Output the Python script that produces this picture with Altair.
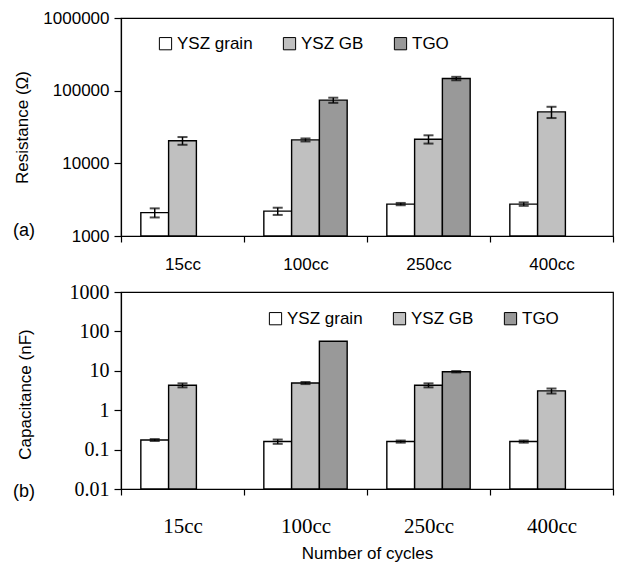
import altair as alt
import pandas as pd
import numpy as np

cycles = ["15cc", "100cc", "250cc", "400cc"]
series = ["YSZ grain", "YSZ GB", "TGO"]
colors = ["#ffffff", "#c0c0c0", "#999999"]

res_grain = [2100, 2200, 2750, 2750]
res_grain_err = [300, 250, 100, 150]
res_gb = [20500, 21000, 21500, 51000]
res_gb_err = [2500, 1000, 2800, 9000]
res_tgo = [np.nan, 74000, 147000, np.nan]
res_tgo_err = [np.nan, 6000, 8000, np.nan]

cap_grain = [0.175, 0.16, 0.16, 0.16]
cap_grain_err = [0.01, 0.02, 0.01, 0.01]
cap_gb = [4.3, 4.9, 4.3, 3.1]
cap_gb_err = [0.5, 0.3, 0.5, 0.45]
cap_tgo = [np.nan, 56, 9.5, np.nan]
cap_tgo_err = [np.nan, np.nan, 0.4, np.nan]


def build(vals, errs):
    rows = []
    for s, v, e in zip(series, vals, errs):
        for c, vv, ee in zip(cycles, v, e):
            rows.append({"cycle": c, "series": s, "value": vv, "err": ee})
    df = pd.DataFrame(rows).dropna(subset=["value"])
    df["lo"] = df["value"] - df["err"]
    df["hi"] = df["value"] + df["err"]
    return df


df_res = build([res_grain, res_gb, res_tgo], [res_grain_err, res_gb_err, res_tgo_err])
df_cap = build([cap_grain, cap_gb, cap_tgo], [cap_grain_err, cap_gb_err, cap_tgo_err])

SANS = "Liberation Sans"
SERIF = "Liberation Serif"
W = 492


def panel(df, H, ydomain, yvals, yfmt, yfont, yfs, xfont, xfs, xlabpad, ytitle, ytx, yty,
          tag, tagy, legx, legy, xtitle=None):
    xaxis = alt.Axis(title=xtitle, labelAngle=0, tickBand="extent", labelFont=xfont,
                     labelFontSize=xfs, labelColor="black", labelPadding=xlabpad,
                     tickSize=6, tickColor="black", tickWidth=1.2,
                     domainColor="black", domainWidth=1.2,
                     titleFont=SANS, titleFontSize=17, titleFontWeight="normal",
                     titleColor="black", titlePadding=9)
    x = alt.X("cycle:N", sort=cycles,
              scale=alt.Scale(paddingInner=0, paddingOuter=0), axis=xaxis)
    xo = alt.XOffset("series:N", sort=series,
                     scale=alt.Scale(domain=series, paddingInner=0, paddingOuter=0.714))
    yscale = alt.Scale(type="log", domain=ydomain, nice=False)
    yaxis = alt.Axis(title=ytitle, values=yvals, format=yfmt, labelFont=yfont,
                     labelFontSize=yfs, labelColor="black", tickSize=7, tickColor="black",
                     tickWidth=1.2,
                     labelPadding=5, domainColor="black", domainWidth=1.2, grid=False,
                     titleFont=SANS, titleFontSize=17, titleFontWeight="normal",
                     titleColor="black", titleAngle=270, titleX=ytx, titleY=yty,
                     titleAlign="center", titleBaseline="middle")
    base = alt.Chart(df)
    bars = base.mark_bar(stroke="black", strokeWidth=1.4).encode(
        x=x, xOffset=xo,
        y=alt.Y("value:Q", scale=yscale, axis=yaxis),
        y2=alt.datum(ydomain[0]),
        fill=alt.Fill("series:N", sort=series,
                      scale=alt.Scale(domain=series, range=colors),
                      legend=alt.Legend(title=None, orient="none", legendX=legx,
                                        legendY=legy, direction="horizontal",
                                        symbolType="square", symbolSize=150,
                                        symbolStrokeColor="black", symbolStrokeWidth=1,
                                        labelFont=SANS, labelFontSize=17,
                                        labelColor="black", columnPadding=28,
                                        labelOffset=3)),
    )
    edf = base.transform_filter("isValid(datum.err)")
    rule = edf.mark_rule(color="black", strokeWidth=1.5).encode(
        x=x, xOffset=xo, y=alt.Y("lo:Q", scale=yscale), y2="hi:Q")
    tlo = edf.mark_tick(color="black", size=10, thickness=2).encode(
        x=x, xOffset=xo, y=alt.Y("lo:Q", scale=yscale))
    thi = edf.mark_tick(color="black", size=10, thickness=2).encode(
        x=x, xOffset=xo, y=alt.Y("hi:Q", scale=yscale))
    lab = alt.Chart(pd.DataFrame({"t": [tag]})).mark_text(
        align="left", baseline="middle", font=SANS, fontSize=18, color="black").encode(
        text="t:N", x=alt.value(-108), y=alt.value(tagy))
    return alt.layer(bars, rule, tlo, thi, lab).properties(width=W, height=H)


top = panel(df_res, 218, [1000, 1000000], [1000, 10000, 100000, 1000000], "d",
            SANS, 17, SANS, 17, 14, "Resistance (Ω)", -99, 109, "(a)", 213, 36, 17)
bottom = panel(df_cap, 197, [0.01, 1000], [0.01, 0.1, 1, 10, 100, 1000], "~g",
               SERIF, 20, SERIF, 21, 20, "Capacitance (nF)", -96, 102, "(b)", 200, 146, 18,
               xtitle="Number of cycles")

chart = alt.vconcat(top, bottom, spacing=56, bounds="flush").resolve_legend(
    fill="independent"
).properties(
    padding={"left": 4, "top": 0, "right": 0, "bottom": 0}
).configure_view(stroke="black", strokeWidth=1.2)

chart.save("out.html", embed_options={"renderer": "svg", "actions": False})
